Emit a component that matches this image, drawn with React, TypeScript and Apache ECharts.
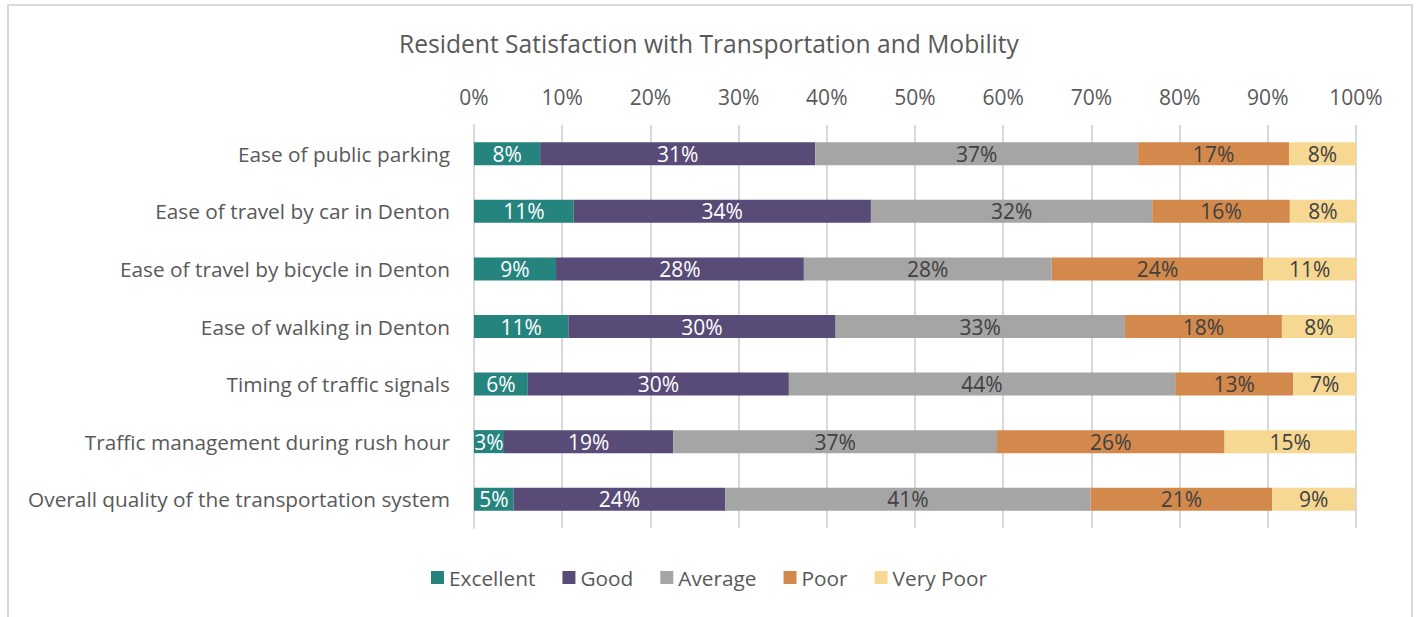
import React, { useEffect, useRef } from "react";
import * as echarts from "echarts";

const categories = [
  "Ease of public parking",
  "Ease of travel by car in Denton",
  "Ease of travel by bicycle in Denton",
  "Ease of walking in Denton",
  "Timing of traffic signals",
  "Traffic management during rush hour",
  "Overall quality of the transportation system",
];
const excellent = [7.5, 11.3, 9.3, 10.7, 6.1, 3.4, 4.5];
const good = [31.2, 33.7, 28.1, 30.3, 29.6, 19.2, 24.0];
const average = [36.6, 31.9, 28.1, 32.8, 43.8, 36.7, 41.4];
const poor = [17.1, 15.6, 24.0, 17.8, 13.4, 25.8, 20.6];
const veryPoor = [7.6, 7.5, 10.5, 8.4, 7.1, 14.9, 9.4];
const seriesNames = ["Excellent", "Good", "Average", "Poor", "Very Poor"];
const seriesColors = ["#26847f", "#594b77", "#a5a5a5", "#d3894b", "#f7d893"];
const labelColors = ["#ffffff", "#ffffff", "#404040", "#404040", "#404040"];

const FONT = "'Open Sans', sans-serif";

export default function App() {
  const ref = useRef<HTMLDivElement>(null);
  useEffect(() => {
    if (!ref.current) return;
    const chart = echarts.init(ref.current, null, { renderer: "svg" });
    const data = [excellent, good, average, poor, veryPoor];
    chart.setOption({
      animation: false,
      backgroundColor: "transparent",
      textStyle: { fontFamily: FONT },
      title: {
        text: "Resident Satisfaction with Transportation and Mobility",
        left: "center",
        top: 26,
        textStyle: { fontFamily: FONT, fontSize: 24.6, fontWeight: "normal", color: "#595959" },
      },
      legend: {
        data: seriesNames,
        bottom: 24,
        left: "center",
        itemWidth: 13,
        itemHeight: 13,
        itemGap: 27,
        icon: "rect",
        textStyle: { fontFamily: FONT, fontSize: 20.8, color: "#595959" },
      },
      grid: { left: 474, right: 62, top: 125, bottom: 89 },
      xAxis: {
        type: "value",
        position: "top",
        min: 0,
        max: 100,
        interval: 10,
        axisLabel: {
          formatter: (v: number) => v + "%",
          fontFamily: FONT,
          fontSize: 21,
          color: "#595959",
          margin: 18,
        },
        axisLine: { show: false },
        axisTick: { show: false },
        splitLine: { show: true, lineStyle: { color: "#d9d9d9", width: 2 } },
      },
      yAxis: {
        type: "category",
        data: categories,
        inverse: true,
        axisLabel: { fontFamily: FONT, fontSize: 20.8, color: "#595959", margin: 24 },
        axisLine: { show: true, lineStyle: { color: "#d9d9d9", width: 2 } },
        axisTick: { show: false },
      },
      series: seriesNames.map((name, i) => ({
        name,
        type: "bar",
        stack: "total",
        barWidth: "40%",
        data: data[i],
        itemStyle: { color: seriesColors[i] },
        label: {
          show: true,
          position: "inside",
          formatter: (p: any) => Math.round(p.value) + "%",
          fontFamily: FONT,
          fontSize: 21,
          color: labelColors[i],
        },
      })),
    });
    return () => chart.dispose();
  }, []);
  return (
    <div style={{ position: "fixed", left: 0, top: 0, width: 1418, height: 617, background: "#fff" }}>
      <div
        style={{
          position: "absolute",
          left: 7,
          top: 4,
          width: 1406,
          height: 640,
          border: "2px solid #d9d9d9",
          boxSizing: "border-box",
        }}
      />
      <div ref={ref} style={{ position: "absolute", left: 0, top: 0, width: 1418, height: 617 }} />
    </div>
  );
}
